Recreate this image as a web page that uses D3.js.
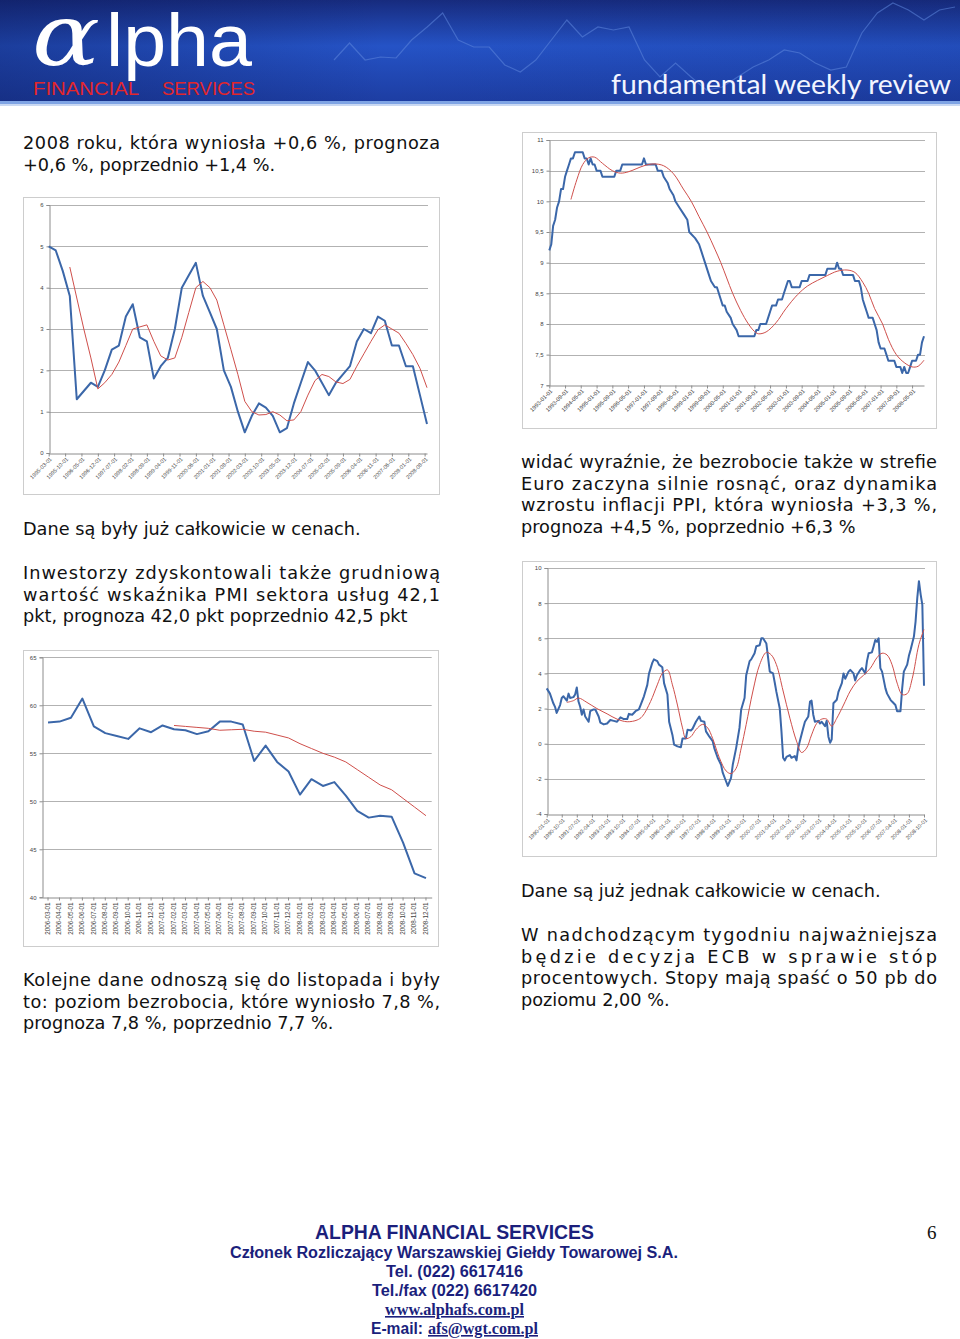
<html>
<head>
<meta charset="utf-8">
<style>
body { margin: 0; background: #fff; }
svg { display: block; }
</style>
</head>
<body>
<script src="https://d3js.org/d3.v7.min.js"></script>
<script>
// ---------- data ----------
// chart 1: quarterly, from 1995-03
var gdpStart = "1995-03-01";
var gdpLabels = ["1995-03-01","1995-10-01","1996-05-01","1996-12-01","1997-07-01","1998-02-01","1998-09-01","1999-04-01","1999-11-01","2000-06-01","2001-01-01","2001-08-01","2002-03-01","2002-10-01","2003-05-01","2003-12-01","2004-07-01","2005-02-01","2005-09-01","2006-04-01","2006-11-01","2007-06-01","2008-01-01","2008-08-01"];
var gdpTicks = [0, 1, 2, 3, 4, 5, 6];
var gdpValues = [5.0,4.9,4.4,3.8,1.3,1.5,1.7,1.6,2.0,2.5,2.6,3.3,3.6,2.8,2.7,1.8,2.1,2.3,3.0,4.0,4.3,4.6,3.8,3.4,3.0,2.0,1.6,1.0,0.5,0.9,1.2,1.1,0.9,0.5,0.6,1.2,1.7,2.2,2.0,1.7,1.4,1.7,1.9,2.1,2.7,3.0,2.9,3.3,3.2,2.6,2.6,2.1,2.1,1.4,0.7];
var gdpTrend = [null,null,null,4.5,3.75,3.0,2.3,1.55,1.7,1.9,2.2,2.6,3.0,3.05,3.1,2.7,2.35,2.25,2.3,2.8,3.4,4.0,4.15,4.0,3.7,3.1,2.5,1.9,1.25,1.0,0.92,0.93,1.0,0.92,0.78,0.8,1.0,1.4,1.75,1.9,1.85,1.72,1.68,1.78,2.1,2.4,2.7,2.98,3.1,3.0,2.9,2.65,2.38,2.05,1.58];

// chart 2: unemployment, [months since 1993-01, value]
var unempStart = "1993-01-01";
var unempEnd = "2008-11-01";
var unempLabels = ["1993-01-01","1993-09-01","1994-05-01","1995-01-01","1995-09-01","1996-05-01","1997-01-01","1997-09-01","1998-05-01","1999-01-01","1999-09-01","2000-05-01","2001-01-01","2001-09-01","2002-05-01","2003-01-01","2003-09-01","2004-05-01","2005-01-01","2005-09-01","2006-05-01","2007-01-01","2007-09-01","2008-05-01"];
var unempTicks = [7, 7.5, 8, 8.5, 9, 9.5, 10, 10.5, 11];
var unempRate = [[0,9.2],[1,9.3],[2,9.6],[3,9.7],[4,9.9],[5,10.0],[6,10.2],[7,10.2],[8,10.4],[9,10.5],[10,10.6],[11,10.7],[12,10.7],[13,10.8],[17,10.8],[18,10.7],[19,10.7],[20,10.6],[21,10.7],[22,10.6],[23,10.6],[24,10.5],[26,10.5],[27,10.4],[33,10.4],[34,10.5],[36,10.5],[37,10.6],[47,10.6],[48,10.7],[49,10.6],[54,10.6],[55,10.5],[57,10.5],[58,10.4],[60,10.3],[61,10.2],[63,10.1],[64,10.0],[66,9.9],[68,9.8],[70,9.7],[71,9.5],[74,9.4],[76,9.3],[77,9.2],[79,9.0],[81,8.8],[82,8.7],[84,8.6],[85,8.6],[87,8.4],[88,8.3],[89,8.3],[90,8.2],[92,8.1],[93,8.0],[95,7.9],[96,7.8],[104,7.8],[105,7.9],[106,7.9],[107,8.0],[110,8.0],[111,8.1],[112,8.2],[113,8.3],[115,8.3],[116,8.4],[118,8.4],[119,8.5],[120,8.6],[121,8.7],[122,8.7],[123,8.6],[127,8.6],[128,8.7],[131,8.7],[132,8.8],[140,8.8],[141,8.9],[145,8.9],[146,9.0],[147,8.9],[148,8.9],[149,8.8],[154,8.8],[155,8.7],[157,8.7],[158,8.6],[159,8.4],[160,8.3],[161,8.2],[162,8.1],[164,8.1],[165,8.0],[166,7.9],[167,7.7],[168,7.6],[170,7.6],[171,7.5],[172,7.4],[175,7.4],[176,7.3],[178,7.3],[179,7.2],[180,7.3],[181,7.2],[182,7.2],[183,7.3],[184,7.4],[186,7.4],[187,7.5],[188,7.5],[189,7.7],[190,7.8]];
var unempTrend = [[11,10.03],[14,10.35],[17,10.6],[20,10.71],[23,10.72],[27,10.62],[32,10.5],[36,10.46],[40,10.48],[44,10.53],[48,10.58],[53,10.61],[58,10.58],[63,10.45],[68,10.2],[72,10.0],[76,9.75],[80,9.5],[84,9.22],[87,9.0],[90,8.75],[93,8.5],[97,8.22],[101,8.0],[104,7.88],[106,7.84],[110,7.87],[115,8.02],[120,8.25],[126,8.48],[131,8.62],[136,8.71],[141,8.79],[146,8.86],[151,8.88],[155,8.84],[159,8.68],[162,8.5],[165,8.25],[169,8.0],[172,7.75],[176,7.5],[180,7.37],[184,7.3],[187,7.31],[190,7.41]];

// chart 3: PMI services, monthly
var pmiLabels = ["2006-03-01","2006-04-01","2006-05-01","2006-06-01","2006-07-01","2006-08-01","2006-09-01","2006-10-01","2006-11-01","2006-12-01","2007-01-01","2007-02-01","2007-03-01","2007-04-01","2007-05-01","2007-06-01","2007-07-01","2007-08-01","2007-09-01","2007-10-01","2007-11-01","2007-12-01","2008-01-01","2008-02-01","2008-03-01","2008-04-01","2008-05-01","2008-06-01","2008-07-01","2008-08-01","2008-09-01","2008-10-01","2008-11-01","2008-12-01"];
var pmiTicks = [40, 45, 50, 55, 60, 65];
var pmiValues = [58.2,58.3,58.7,60.7,57.8,57.1,56.8,56.5,57.6,57.2,57.9,57.5,57.4,57.0,57.3,58.3,58.3,58.0,54.2,55.8,54.1,53.1,50.7,52.3,51.6,52.0,50.6,49.0,48.3,48.5,48.4,45.7,42.5,42.0];
var pmiTrend = [null,null,null,null,null,null,null,null,null,null,null,57.9,57.8,57.7,57.6,57.4,57.45,57.5,57.3,57.2,56.9,56.6,56.0,55.5,55.0,54.6,54.1,53.3,52.5,51.7,51.2,50.3,49.4,48.5];

// chart 4: PPI, [months since 1990-01, value]
var ppiStart = "1990-01-01";
var ppiEnd = "2008-10-01";
var ppiLabels = ["1990-01-01","1990-10-01","1991-07-01","1992-04-01","1993-01-01","1993-10-01","1994-07-01","1995-04-01","1996-01-01","1996-10-01","1997-07-01","1998-04-01","1999-01-01","1999-10-01","2000-07-01","2001-04-01","2002-01-01","2002-10-01","2003-07-01","2004-04-01","2005-01-01","2005-10-01","2006-07-01","2007-04-01","2008-01-01","2008-10-01"];
var ppiTicks = [-4, -2, 0, 2, 4, 6, 8, 10];
var ppiValues = [[0,3.15],[2,2.85],[4,2.3],[5,2.1],[6,1.75],[8,2.2],[9,2.6],[10,2.7],[12,2.45],[13,2.85],[14,2.6],[16,2.65],[17,2.8],[18,3.2],[19,2.4],[20,2.1],[21,1.65],[22,1.95],[23,1.55],[25,1.25],[26,1.85],[28,1.95],[29,1.95],[31,1.55],[32,1.2],[34,1.1],[36,1.15],[38,1.35],[40,1.3],[42,1.25],[44,1.5],[46,1.4],[48,1.4],[49,1.7],[51,1.65],[53,1.85],[55,1.95],[56,2.2],[58,2.7],[60,3.35],[61,4.0],[63,4.6],[64,4.8],[66,4.7],[67,4.5],[69,4.35],[70,3.45],[72,2.8],[73,1.25],[75,0.5],[76,-0.05],[78,-0.15],[80,-0.2],[81,0.3],[83,0.3],[84,0.8],[86,0.75],[87,0.85],[89,1.25],[91,1.55],[92,1.3],[94,1.25],[95,0.7],[97,0.4],[99,0.15],[100,-0.25],[102,-0.8],[104,-1.2],[105,-1.65],[107,-2.15],[108,-2.4],[110,-1.95],[111,-1.2],[113,-0.25],[115,0.9],[116,1.95],[118,2.6],[119,3.9],[121,4.7],[122,4.8],[124,5.15],[125,5.55],[127,5.6],[128,6.0],[129,6.0],[131,5.7],[132,4.9],[133,4.1],[135,4.0],[136,3.5],[137,2.95],[139,2.0],[140,0.7],[141,-0.8],[142,-0.95],[143,-0.75],[145,-0.65],[146,-0.8],[148,-0.7],[149,-0.95],[150,-0.25],[151,0.15],[153,0.9],[154,1.25],[156,1.55],[157,2.4],[158,2.45],[159,1.65],[160,1.25],[162,1.3],[163,1.15],[164,1.25],[166,1.0],[167,1.3],[168,0.4],[169,0.05],[170,0.25],[171,2.3],[173,2.5],[174,2.95],[176,3.45],[177,4.0],[178,3.7],[180,4.1],[181,4.2],[183,4.0],[184,3.6],[185,3.9],[187,4.2],[188,4.3],[190,4.0],[191,4.7],[192,5.15],[194,5.2],[195,5.55],[196,5.9],[197,5.8],[198,6.0],[199,4.3],[200,4.1],[202,3.15],[203,2.85],[205,2.5],[206,2.4],[208,2.2],[209,1.85],[211,1.85],[212,3.15],[213,4.1],[215,4.5],[216,5.0],[217,5.35],[219,6.1],[220,6.95],[221,8.3],[222,9.25],[223,8.5],[224,7.9],[225,3.3]];
var ppiTrend = [[12,2.35],[16,2.45],[19,2.6],[24,2.35],[30,2.0],[36,1.7],[42,1.4],[48,1.25],[54,1.35],[57,1.55],[62,2.4],[66,3.35],[69,4.0],[72,4.2],[75,3.35],[78,2.2],[81,0.9],[83,0.3],[86,0.4],[89,0.8],[93,1.1],[96,0.9],[99,0.3],[103,-0.8],[107,-1.55],[110,-1.7],[113,-1.4],[116,-0.25],[119,1.1],[123,3.0],[127,4.5],[131,5.2],[134,5.05],[137,4.5],[141,3.0],[145,1.45],[149,0.15],[152,-0.5],[155,-0.25],[158,0.5],[161,1.15],[164,1.4],[167,1.4],[170,1.0],[173,1.45],[177,2.2],[181,3.0],[185,3.55],[189,3.9],[193,4.3],[197,4.9],[200,5.15],[203,5.05],[206,4.5],[209,3.45],[212,2.8],[215,2.85],[218,3.7],[222,5.65],[225,6.5]];

// faint decoration behind the header
var headerTrace = [40,57,40,43,42,60,73,87,60,53,53,35,28,40,60,80,63,73,70,73,40,23,37,23,10,13,23,33,40,50,47,37,30,33,67,87,97,90,80,90,93];

// page text
var leftTop = ["2008 roku, która wyniosła +0,6 %, prognoza", "+0,6 %, poprzednio +1,4 %."];
var leftMid1 = ["Dane są były już całkowicie w cenach."];
var leftMid2 = ["Inwestorzy zdyskontowali także grudniową", "wartość wskaźnika PMI sektora usług 42,1", "pkt, prognoza 42,0 pkt poprzednio 42,5 pkt"];
var leftBottom = ["Kolejne dane odnoszą się do listopada i były", "to: poziom bezrobocia, które wyniosło 7,8 %,", "prognoza 7,8 %, poprzednio 7,7 %."];
var rightTop = ["widać wyraźnie, że bezrobocie także w strefie", "Euro zaczyna silnie rosnąć, oraz dynamika", "wzrostu inflacji PPI, która wyniosła +3,3 %,", "prognoza +4,5 %, poprzednio +6,3 %"];
var rightMid = ["Dane są już jednak całkowicie w cenach."];
var rightBottom = ["W nadchodzącym tygodniu najważniejsza", "będzie decyzja ECB w sprawie stóp", "procentowych. Stopy mają spaść o 50 pb do", "poziomu 2,00 %."];

// ---------- page ----------
var width = 960, height = 1339;
var svg = d3.select("body").append("svg")
    .attr("width", width)
    .attr("height", height);

var parseDay = d3.timeParse("%Y-%m-%d");
var pl = d3.formatLocale({decimal: ",", thousands: " ", grouping: [3], currency: ["", ""], minus: "-"});
var fmt = pl.format("~g");

var blue = "#3b67a9", red = "#cf4f4b";

// header
var defs = svg.append("defs");
var hg = defs.append("linearGradient").attr("id", "hdr").attr("x1", 0).attr("y1", 0).attr("x2", 0).attr("y2", 1);
hg.append("stop").attr("offset", "0%").attr("stop-color", "#172b7e");
hg.append("stop").attr("offset", "45%").attr("stop-color", "#2553c6");
hg.append("stop").attr("offset", "100%").attr("stop-color", "#1d3da2");
var hs = defs.append("linearGradient").attr("id", "hdrside").attr("x1", 0).attr("y1", 0).attr("x2", 1).attr("y2", 0);
hs.append("stop").attr("offset", "0%").attr("stop-color", "#0a1650").attr("stop-opacity", 0.35);
hs.append("stop").attr("offset", "40%").attr("stop-color", "#0a1650").attr("stop-opacity", 0);
hs.append("stop").attr("offset", "100%").attr("stop-color", "#0a1650").attr("stop-opacity", 0.1);

svg.append("rect").attr("width", width).attr("height", 102).attr("fill", "url(#hdr)");
svg.append("rect").attr("width", width).attr("height", 102).attr("fill", "url(#hdrside)");
svg.append("rect").attr("y", 101).attr("width", width).attr("height", 3).attr("fill", "#7fa4e4");
svg.append("rect").attr("y", 104).attr("width", width).attr("height", 2).attr("fill", "#c9d8f2");

var hx = d3.scaleLinear().domain([0, headerTrace.length - 1]).range([334, 955]);
var hy = d3.scaleLinear().domain([0, 100]).range([100, 0]);
svg.append("path")
    .attr("d", d3.line().x(function(d, i){ return hx(i); }).y(function(d){ return hy(d); })(headerTrace))
    .attr("fill", "none").attr("stroke", "#5f86dc").attr("stroke-opacity", 0.55).attr("stroke-width", 1.2);

svg.append("text").attr("x", 32).attr("y", 65)
    .attr("font-family", "'DejaVu Serif', serif").attr("font-style", "italic")
    .attr("font-size", 86).attr("fill", "#fff")
    .attr("textLength", 68).attr("lengthAdjust", "spacingAndGlyphs")
    .text("α");
svg.append("text").attr("x", 106).attr("y", 66)
    .attr("font-family", "'Liberation Sans', Arial, sans-serif")
    .attr("font-size", 74).attr("fill", "#fff")
    .attr("textLength", 146).attr("lengthAdjust", "spacingAndGlyphs")
    .text("lpha");
svg.append("text").attr("x", 33).attr("y", 95)
    .attr("font-family", "'Liberation Sans Narrow', 'Liberation Sans', sans-serif")
    .attr("font-size", 19).attr("fill", "#e3262b")
    .attr("textLength", 106).attr("lengthAdjust", "spacingAndGlyphs")
    .text("FINANCIAL");
svg.append("text").attr("x", 162).attr("y", 95)
    .attr("font-family", "'Liberation Sans Narrow', 'Liberation Sans', sans-serif")
    .attr("font-size", 19).attr("fill", "#e3262b")
    .attr("textLength", 93).attr("lengthAdjust", "spacingAndGlyphs")
    .text("SERVICES");
svg.append("text").attr("x", 611).attr("y", 94)
    .attr("font-family", "Lato, 'Noto Sans', sans-serif")
    .attr("font-size", 27).attr("fill", "#f2f5ff")
    .attr("textLength", 340).attr("lengthAdjust", "spacingAndGlyphs")
    .text("fundamental weekly review");

// text blocks, justified except the last line
function block(lines, x, w, y0, lh) {
  lines.forEach(function(line, i){
    var t = svg.append("text")
        .attr("x", x).attr("y", y0 + i * lh)
        .attr("font-family", "'DejaVu Sans', Verdana, sans-serif")
        .attr("font-size", 17.7).attr("fill", "#111")
        .text(line);
    if (i < lines.length - 1) t.attr("textLength", w).attr("lengthAdjust", "spacing");
  });
}
block(leftTop, 23, 417, 149, 21.5);
block(leftMid1, 23, 417, 535, 21.5);
block(leftMid2, 23, 417, 579, 21.6);
block(leftBottom, 23, 417, 986, 21.6);
block(rightTop, 521, 416, 468, 21.6);
block(rightMid, 521, 416, 897, 21.6);
block(rightBottom, 521, 416, 941, 21.7);

// ---------- charts ----------
function chart(c) {
  var g = svg.append("g");
  g.append("rect")
      .attr("x", c.box[0] + 0.5).attr("y", c.box[1] + 0.5)
      .attr("width", c.box[2]).attr("height", c.box[3])
      .attr("fill", "#fff").attr("stroke", "#cdcdcd");

  var y = d3.scaleLinear().domain(d3.extent(c.yTicks)).range([c.bottom, c.top]);

  g.append("g").selectAll("line")
    .data(c.yTicks.slice(1))
    .join("line")
      .attr("x1", c.left).attr("x2", c.right)
      .attr("y1", function(d){ return Math.round(y(d)) + 0.5; })
      .attr("y2", function(d){ return Math.round(y(d)) + 0.5; })
      .attr("stroke", "#b2b2b2");

  var ya = g.append("g")
      .attr("transform", "translate(" + (Math.round(c.left) + 0.5) + ",0)")
      .call(d3.axisLeft(y).tickValues(c.yTicks).tickFormat(fmt).tickSize(3).tickPadding(3));
  ya.selectAll("text").attr("font-size", 6).attr("fill", "#444").attr("font-family", "'Liberation Sans', Arial, sans-serif");

  var xa = g.append("g")
      .attr("transform", "translate(0," + (Math.round(c.bottom) + 0.5) + ")")
      .call(d3.axisBottom(c.x).tickValues(c.xTicks).tickFormat(c.xFormat).tickSize(3).tickSizeOuter(0));
  xa.selectAll("text")
      .attr("y", 0).attr("x", 0).attr("dy", null)
      .attr("font-size", c.labelSize).attr("fill", "#444")
      .attr("font-family", "'Liberation Sans', Arial, sans-serif")
      .attr("text-anchor", "end")
      .attr("dominant-baseline", "middle")
      .attr("transform", c.labelTransform);

  [ya, xa].forEach(function(a){
    a.select(".domain").attr("stroke", "#8c8c8c");
    a.selectAll(".tick line").attr("stroke", "#8c8c8c");
  });

  c.series.forEach(function(s){
    var line = d3.line()
        .defined(function(d){ return d[1] != null; })
        .x(function(d){ return s.px(d[0]); })
        .y(function(d){ return y(d[1]); })
        .curve(s.curve || d3.curveLinear);
    g.append("path")
        .attr("d", line(s.data))
        .attr("fill", "none")
        .attr("stroke", s.color)
        .attr("stroke-width", s.width)
        .attr("stroke-linejoin", "round");
  });
}

// chart 1
var gdpDates = gdpValues.map(function(v, i){ return d3.timeMonth.offset(parseDay(gdpStart), 3 * i); });
var x1 = d3.scaleTime().domain(d3.extent(gdpDates)).range([48.7, 427]);
chart({
  box: [23, 197, 416, 297], left: 48.7, right: 428, top: 205, bottom: 453,
  yTicks: gdpTicks, x: x1,
  xTicks: gdpLabels.map(parseDay), xFormat: d3.timeFormat("%Y-%m-%d"),
  labelSize: 5.5, labelTransform: "translate(2,5) rotate(-45)",
  series: [
    {data: gdpValues.map(function(v, i){ return [gdpDates[i], v]; }), px: x1, color: blue, width: 2},
    {data: gdpTrend.map(function(v, i){ return [gdpDates[i], v]; }), px: x1, color: red, width: 1}
  ]
});

// chart 2
var x2 = d3.scaleTime().domain([parseDay(unempStart), parseDay(unempEnd)]).range([549.3, 924]);
function m2(m){ return x2(d3.timeMonth.offset(parseDay(unempStart), m)); }
chart({
  box: [522, 132, 414, 296], left: 549.3, right: 925, top: 140, bottom: 385.3,
  yTicks: unempTicks, x: x2,
  xTicks: unempLabels.map(parseDay), xFormat: d3.timeFormat("%Y-%m-%d"),
  labelSize: 5.7, labelTransform: "translate(2,5) rotate(-45)",
  series: [
    {data: unempRate, px: m2, color: blue, width: 2},
    {data: unempTrend, px: m2, color: red, width: 1, curve: d3.curveCatmullRom}
  ]
});

// chart 3
var x3 = d3.scaleBand().domain(pmiLabels).range([42.3, 431.7]);
function b3(k){ return x3(k) + x3.bandwidth() / 2; }
chart({
  box: [23, 650, 415, 296], left: 42.3, right: 431.7, top: 657.3, bottom: 897.3,
  yTicks: pmiTicks, x: x3,
  xTicks: pmiLabels, xFormat: function(d){ return d; },
  labelSize: 6.3, labelTransform: "translate(0,5) rotate(-90)",
  series: [
    {data: pmiValues.map(function(v, i){ return [pmiLabels[i], v]; }), px: b3, color: blue, width: 2},
    {data: pmiTrend.map(function(v, i){ return [pmiLabels[i], v]; }), px: b3, color: red, width: 1}
  ]
});

// chart 4
var x4 = d3.scaleTime().domain([parseDay(ppiStart), parseDay(ppiEnd)]).range([546.7, 924]);
function m4(m){ return x4(d3.timeMonth.offset(parseDay(ppiStart), m)); }
chart({
  box: [522, 561, 414, 295], left: 546.7, right: 925, top: 568, bottom: 814,
  yTicks: ppiTicks, x: x4,
  xTicks: ppiLabels.map(parseDay), xFormat: d3.timeFormat("%Y-%m-%d"),
  labelSize: 5.4, labelTransform: "translate(2,5) rotate(-45)",
  series: [
    {data: ppiValues, px: m4, color: blue, width: 2},
    {data: ppiTrend, px: m4, color: red, width: 1, curve: d3.curveCatmullRom}
  ]
});

// ---------- footer ----------
var navy = "#1b1f7c";
function foot(txt, x, y, size, len, opts) {
  opts = opts || {};
  var t = svg.append("text")
      .attr("x", x).attr("y", y)
      .attr("font-family", opts.serif ? "'Liberation Serif', 'Times New Roman', serif" : "'Liberation Sans', Arial, sans-serif")
      .attr("font-weight", "bold")
      .attr("font-size", size).attr("fill", opts.color || navy)
      .attr("textLength", len).attr("lengthAdjust", "spacingAndGlyphs")
      .text(txt);
  if (opts.underline) t.attr("text-decoration", "underline");
  return t;
}
foot("ALPHA FINANCIAL SERVICES", 315, 1239, 19.5, 279);
foot("Członek Rozliczający Warszawskiej Giełdy Towarowej S.A.", 230, 1258, 16, 448);
foot("Tel. (022) 6617416", 386, 1277, 16, 137);
foot("Tel./fax (022) 6617420", 372, 1296, 16, 165);
foot("www.alphafs.com.pl", 385, 1315, 16, 139, {serif: true, underline: true});
foot("E-mail:", 371, 1334, 16, 52);
foot("afs@wgt.com.pl", 428, 1334, 16, 110, {serif: true, underline: true});
svg.append("text").attr("x", 927).attr("y", 1239)
    .attr("font-family", "'Liberation Serif', 'Times New Roman', serif")
    .attr("font-size", 19).attr("fill", "#111").text("6");
</script>
</body>
</html>
